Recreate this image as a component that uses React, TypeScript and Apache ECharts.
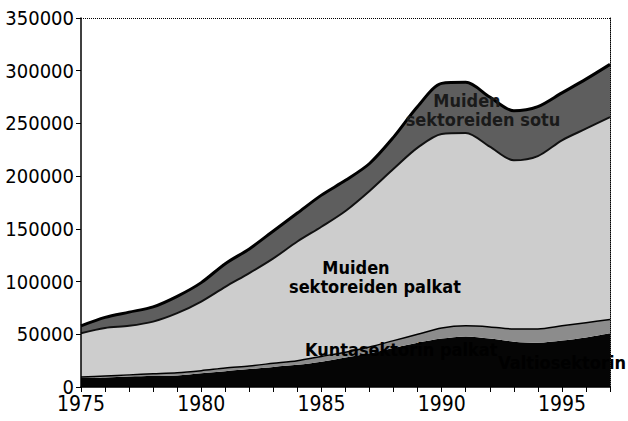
import React, { useEffect, useRef } from "react";
import * as echarts from "echarts";

const years = ["1975","1976","1977","1978","1979","1980","1981","1982","1983","1984","1985","1986","1987","1988","1989","1990","1991","1992","1993","1994","1995","1996","1997"];
const kuntaPalkat = [8500,9000,10000,10500,11000,13000,15000,17000,19000,21000,24000,28000,32000,37000,42000,46000,48000,46000,43000,42000,44000,47000,51000];
const kuntaSotu = [1000,1500,1500,2000,2500,2500,3000,3000,3500,4000,5000,5000,6000,7000,8000,10000,10000,11000,12000,13000,14000,14000,13000];
const muidenPalkat = [41500,45500,46500,49500,56500,65500,77000,88000,99500,113000,123000,134000,148000,163000,177000,184000,183000,171000,160000,164000,176000,184000,192000];
const muidenSotu = [7000,10000,13000,14000,16000,18000,22000,23000,26000,27000,30000,29000,26000,30000,39000,48000,48000,47000,47000,47000,45000,47000,50000];

const FONT = "'DejaVu Sans Condensed', 'Liberation Sans', sans-serif";
const T = "rgba(0,0,0,0)";

export default function App() {
  const ref = useRef<HTMLDivElement>(null);
  useEffect(() => {
    if (!ref.current) return;
    const chart = echarts.init(ref.current, undefined, { renderer: "svg" });
    const lbl = (text: string, x: number, y: number, align: string, size = 18, color = "#000") => ({
      type: "text",
      x,
      y,
      z: 100,
      style: {
        text,
        fill: color,
        font: `bold ${size}px ${FONT}`,
        textAlign: align,
        textVerticalAlign: "middle",
      },
    });
    chart.setOption({
      animation: false,
      backgroundColor: "#fff",
      grid: { left: 81, right: 18, top: 18, bottom: 34, containLabel: false, outerBoundsMode: "none" },
      xAxis: [
        {
          type: "category",
          data: years,
          boundaryGap: false,
          axisLine: { show: true, onZero: false, lineStyle: { color: "#000", width: 1.5 } },
          axisTick: { show: true, interval: 0, length: 5, lineStyle: { color: "#000" } },
          axisLabel: { interval: 4, color: "#000", fontSize: 21, fontFamily: FONT, margin: 8, lineHeight: 18 },
          splitLine: { show: false },
          z: 10,
        },
      ],
      yAxis: [
        {
          type: "value",
          min: 0,
          max: 350000,
          interval: 50000,
          axisLine: { show: true, onZero: false, lineStyle: { color: "#000", width: 1.5 } },
          axisTick: { show: true, length: 5, lineStyle: { color: "#000" } },
          axisLabel: { color: "#000", fontSize: 20, fontFamily: FONT, margin: 7, lineHeight: 15, formatter: (v: number) => String(v) },
          splitLine: { show: true, lineStyle: { color: [T, T, T, T, T, T, T, "#000"], type: "dotted", width: 1 } },
          z: 10,
        },
        {
          type: "value",
          min: 0,
          max: 350000,
          interval: 50000,
          position: "right",
          axisLine: { show: true, onZero: false, lineStyle: { color: "#000", width: 1, type: "dotted" } },
          axisTick: { show: false },
          axisLabel: { show: false },
          splitLine: { show: false },
        },
      ],
      series: [
        {
          name: "Kuntasektorin palkat",
          type: "line",
          stack: "s",
          data: kuntaPalkat,
          smooth: 0.3,
          symbol: "none",
          lineStyle: { width: 0 },
          areaStyle: { color: "#050505", opacity: 1 },
        },
        {
          name: "Kuntasektorin sotu",
          type: "line",
          stack: "s",
          data: kuntaSotu,
          smooth: 0.3,
          symbol: "none",
          lineStyle: { width: 1.5, color: "#000" },
          areaStyle: { color: "#8c8c8c", opacity: 1 },
        },
        {
          name: "Muiden sektoreiden palkat",
          type: "line",
          stack: "s",
          data: muidenPalkat,
          smooth: 0.3,
          symbol: "none",
          lineStyle: { width: 2, color: "#111" },
          areaStyle: { color: "#cdcdcd", opacity: 1 },
        },
        {
          name: "Muiden sektoreiden sotu",
          type: "line",
          stack: "s",
          data: muidenSotu,
          smooth: 0.3,
          symbol: "none",
          lineStyle: { width: 3, color: "#000" },
          areaStyle: { color: "#5e5e5e", opacity: 1 },
        },
      ],
      graphic: [
        lbl("Muiden", 467, 100, "center", 18, "#1a1a1a"),
        lbl("sektoreiden sotu", 483, 119, "center", 18, "#1a1a1a"),
        lbl("Muiden", 356, 267, "center", 18),
        lbl("sektoreiden palkat", 375, 286, "center", 18),
        lbl("Kuntasektorin palkat", 305, 349, "left", 18),
        lbl("Valtiosektorin", 626, 362, "right", 18),
      ],
    });
    return () => chart.dispose();
  }, []);
  return <div ref={ref} style={{ position: "absolute", left: 0, top: 0, width: 628, height: 421 }} />;
}
